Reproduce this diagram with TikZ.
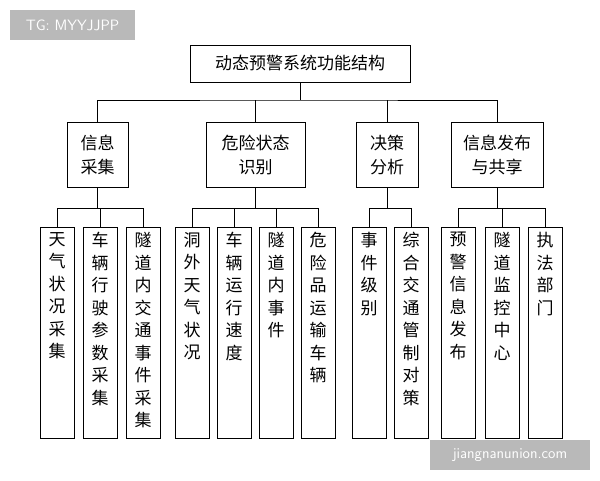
\documentclass[tikz,border=0pt]{standalone}
\usepackage{fontspec}
\setmainfont{Noto Sans CJK SC}
\usetikzlibrary{positioning}
\begin{document}
\begin{tikzpicture}[x=1pt,y=-1pt,line width=0.8pt]
\tikzset{
  top node/.style = {draw, minimum width=220, minimum height=37, font=\fontsize{17}{22}\selectfont},
  mid node/.style = {draw, anchor=north, minimum height=65, align=center, font=\fontsize{17}{24}\selectfont},
  leaf node/.style = {draw, anchor=north, minimum width=34, minimum height=211, inner sep=0, font=\fontsize{17}{22.5}\selectfont},
  mark box/.style = {fill=gray!55, text=white, inner sep=0, font=\fontsize{15}{17}\selectfont\sffamily}
}
\newcommand{\vtext}[1]{\parbox[t][205pt][t]{18pt}{\centering\vspace{2pt}#1}}
\useasboundingbox (0,0) rectangle (600,480);

\node[mark box, minimum width=125, minimum height=30] (tg) at (72.5,25) {TG: MYYJJPP};
\node[mark box, minimum width=160, minimum height=30] (site) at (510,455) {jiangnanunion.com};

\node[top node] (root) at (300,63.5) {动态预警系统功能结构};

\node[mid node, minimum width=61] (c1) at (97.5,122) {信息\\采集};
\node[mid node, minimum width=99] (c2) at (255.5,122) {危险状态\\识别};
\node[mid node, minimum width=62] (c3) at (387,122) {决策\\分析};
\node[mid node, minimum width=92] (c4) at (497,122) {信息发布\\与共享};

\node[leaf node] (l11) at (57,227) {\vtext{天\\气\\状\\况\\采\\集}};
\node[leaf node] (l12) at (100,227) {\vtext{车\\辆\\行\\驶\\参\\数\\采\\集}};
\node[leaf node] (l13) at (143,227) {\vtext{隧\\道\\内\\交\\通\\事\\件\\采\\集}};
\node[leaf node] (l21) at (192,227) {\vtext{洞\\外\\天\\气\\状\\况}};
\node[leaf node] (l22) at (234,227) {\vtext{车\\辆\\运\\行\\速\\度}};
\node[leaf node] (l23) at (276,227) {\vtext{隧\\道\\内\\事\\件}};
\node[leaf node] (l24) at (318,227) {\vtext{危\\险\\品\\运\\输\\车\\辆}};
\node[leaf node] (l31) at (369,227) {\vtext{事\\件\\级\\别}};
\node[leaf node] (l32) at (411,227) {\vtext{综\\合\\交\\通\\管\\制\\对\\策}};
\node[leaf node] (l41) at (458,227) {\vtext{预\\警\\信\\息\\发\\布}};
\node[leaf node] (l42) at (502,227) {\vtext{隧\\道\\监\\控\\中\\心}};
\node[leaf node] (l43) at (545,227) {\vtext{执\\法\\部\\门}};

% connectors
\coordinate (bus) at (300,100);
\draw (root.south) -- (bus);
\draw (c1.north) |- (bus) -| (c4.north);
\draw (c2.north) -- (c2.north |- bus);
\draw (c3.north) -- (c3.north |- bus);
\foreach \g/\first/\last/\others in {c1/l11/l13/{l12}, c2/l21/l24/{l22,l23}, c3/l31/l32/{}, c4/l41/l43/{l42}}{
  \coordinate (b\g) at ([yshift=-21]\g.south);
  \draw (\g.south) -- (b\g);
  \draw (\first.north) |- (b\g) -| (\last.north);
  \foreach \o in \others { \draw (\o.north) -- (\o.north |- b\g); }
}
\end{tikzpicture}
\end{document}
